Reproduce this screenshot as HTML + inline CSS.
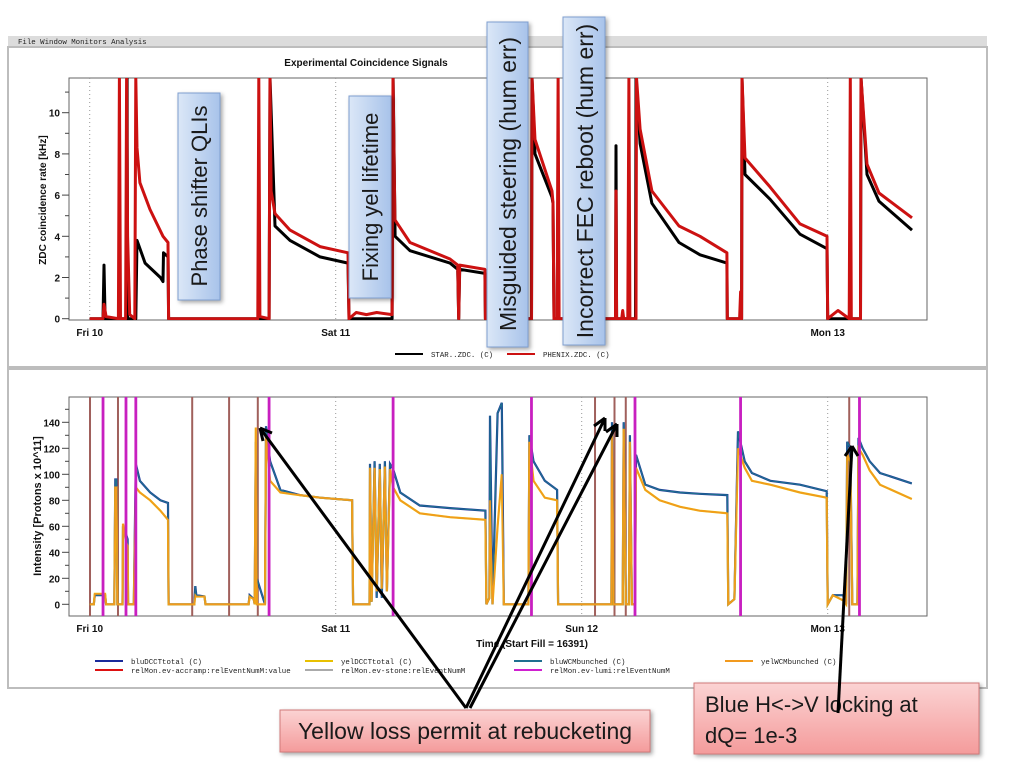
<!DOCTYPE html>
<html><head><meta charset="utf-8"><style>
html,body{margin:0;padding:0;background:#fff;width:1024px;height:768px;overflow:hidden}
svg{display:block}
.mono{font-family:"Liberation Mono",monospace;font-size:7.4px;fill:#222}
.lab{font-family:"Liberation Sans",sans-serif;font-size:10px;font-weight:bold;fill:#111}
.ann{font-family:"Liberation Sans","DejaVu Sans",sans-serif;font-size:22px;fill:#1a1a1a}
</style></head><body>
<svg id="chart" width="1024" height="768" viewBox="0 0 1024 768" xmlns="http://www.w3.org/2000/svg">
<defs>
<linearGradient id="gBlue" x1="0" y1="0" x2="1" y2="0"><stop offset="0" stop-color="#dbe7f7"/><stop offset="1" stop-color="#a8c3ea"/></linearGradient>
<linearGradient id="gRed" x1="0" y1="0" x2="0" y2="1"><stop offset="0" stop-color="#fbd3d3"/><stop offset="1" stop-color="#f49b9b"/></linearGradient>
<clipPath id="cTop"><rect x="69" y="78" width="858" height="242"/></clipPath>
<clipPath id="cBot"><rect x="69" y="397" width="858" height="219"/></clipPath>
</defs>
<g>
<rect x="8" y="36" width="979" height="11" fill="#dcdcdc"/>
<text x="18" y="44" class="mono" fill="#555">File    Window    Monitors    Analysis</text>
<rect x="8" y="47" width="979" height="320" fill="#fff" stroke="#bdbdbd" stroke-width="2"/>
<rect x="8" y="369" width="979" height="319" fill="#fff" stroke="#bdbdbd" stroke-width="2"/>
</g>
<text x="366" y="66" text-anchor="middle" class="lab">Experimental Coincidence Signals</text>
<rect x="69" y="78" width="858" height="242" fill="none" stroke="#666"/>
<rect x="69" y="397" width="858" height="219" fill="none" stroke="#666"/>
<text transform="translate(46,200) rotate(-90)" text-anchor="middle" class="lab">ZDC coincidence rate [kHz]</text>
<text transform="translate(41,506) rotate(-90)" text-anchor="middle" class="lab" style="font-size:11px">Intensity [Protons x 10^11]</text>
<text x="532" y="647" text-anchor="middle" class="lab">Time (Start Fill = 16391)</text>
<g id="gTopAxes"></g><g id="gBotAxes"></g>
<g id="gTop" clip-path="url(#cTop)"></g>
<g id="gBot" clip-path="url(#cBot)"></g>
<g id="gLegend"></g>
<g>
<g stroke="#000" stroke-width="3" fill="none">
<line x1="466" y1="708" x2="260" y2="428"/><path d="M260,428 l3,13 M260,428 l12,5"/>
<line x1="466" y1="708" x2="605" y2="418"/><path d="M605,418 l-11,8 M605,418 l0,13"/>
<line x1="470" y1="708" x2="617" y2="424"/><path d="M617,424 l-11,8 M617,424 l0,13"/>
</g>
<g><rect x="178" y="93" width="42" height="207" fill="url(#gBlue)" stroke="#7f9fd0" style="filter:drop-shadow(2px 2px 2px rgba(0,0,0,.35))"/><text class="ann" transform="translate(207,196) rotate(-90)" text-anchor="middle">Phase shifter QLIs</text></g>
<g><rect x="349" y="96" width="42" height="202" fill="url(#gBlue)" stroke="#7f9fd0" style="filter:drop-shadow(2px 2px 2px rgba(0,0,0,.35))"/><text class="ann" transform="translate(378,197) rotate(-90)" text-anchor="middle">Fixing yel lifetime</text></g>
<g><rect x="487" y="22" width="41" height="325" fill="url(#gBlue)" stroke="#7f9fd0" style="filter:drop-shadow(2px 2px 2px rgba(0,0,0,.35))"/><text class="ann" style="font-size:23px" transform="translate(516,184) rotate(-90)" text-anchor="middle">Misguided steering (hum err)</text></g>
<g><rect x="563" y="17" width="42" height="328" fill="url(#gBlue)" stroke="#7f9fd0" style="filter:drop-shadow(2px 2px 2px rgba(0,0,0,.35))"/><text class="ann" style="font-size:23px" transform="translate(593,181) rotate(-90)" text-anchor="middle">Incorrect FEC reboot (hum err)</text></g>
<g><rect x="280" y="710" width="370" height="42" fill="url(#gRed)" stroke="#d27a7a" style="filter:drop-shadow(2px 2px 2px rgba(0,0,0,.35))"/><text class="ann" style="font-size:23px" x="465" y="739" text-anchor="middle">Yellow loss permit at rebucketing</text></g>
<g><rect x="694" y="683" width="285" height="71" fill="url(#gRed)" stroke="#d27a7a" style="filter:drop-shadow(2px 2px 2px rgba(0,0,0,.35))"/><text class="ann" x="705" y="712">Blue H&lt;-&gt;V locking at</text><text class="ann" x="705" y="743">dQ= 1e-3</text></g>
<g stroke="#000" stroke-width="3" fill="none">
<line x1="838" y1="713" x2="852" y2="446"/><path d="M852,446 l-7,10 M852,446 l6,10"/>
</g>
</g>
</svg>
<script>
// ---- data (hours since Fri 10 00:00) ----
const dayLabels = ["Fri 10","Sat 11","Sun 12","Mon 13"];
const topDays = [0,1,3];
const botDays = [0,1,2,3];
const topYTicks = [0,2,4,6,8,10];
const botYTicks = [0,20,40,60,80,100,120,140];
const phenixPts = [[0,0],[1.3,0],[1.4,0.7],[1.6,0.1],[2.8,0],[2.9,11.7],[3.0,0],[3.5,0],[3.6,11.7],[3.7,4],[3.9,0.2],[4.4,0],[4.5,11.7],[4.61,8.3],[4.9,6.6],[5.88,5.3],[7.15,4.0],[7.64,3.7],[7.7,0],[16.4,0],[16.5,11.7],[16.6,0.1],[17.5,0],[17.59,11.7],[17.7,6.2],[18.08,5.1],[19.54,4.3],[22.47,3.5],[25.2,3.2],[25.3,0],[26,0.3],[27,0.2],[28,0.3],[29.5,0.2],[29.59,11.7],[29.78,4.8],[31.25,3.7],[35.15,2.9],[35.9,2.6],[36.0,0],[36.1,2.6],[38.56,2.4],[38.6,0],[43.1,0],[43.15,11.7],[43.44,8.7],[45.1,6.2],[45.2,5.6],[45.3,0],[45.6,0],[45.7,11.7],[45.8,0],[51.3,0],[51.35,6.2],[51.4,0],[51.9,0],[52.0,0.4],[52.1,0],[52.5,0],[52.6,11.7],[52.7,0],[53.3,0],[53.35,11.7],[53.7,9.2],[54.85,6.2],[57.49,4.5],[59.54,4.0],[62.17,3.2],[62.2,0],[63.4,0],[63.5,1.3],[63.6,0],[63.64,11.7],[63.93,7.8],[66.37,6.4],[69.3,4.6],[71.93,4.0],[72.0,0],[73,0.4],[74.1,0],[74.2,11.7],[74.3,0],[75.2,0],[75.25,11.7],[75.83,7.5],[77.0,6.1],[80.22,4.9]];
const starPts = [[0,0],[1.3,0],[1.4,2.6],[1.5,0],[3.6,0],[3.65,11.7],[3.7,0],[4.5,0],[4.61,3.8],[5.4,2.7],[6.9,2.0],[7.15,1.8],[7.2,3.2],[7.64,3.0],[7.7,0],[17.5,0],[17.59,11.7],[18.08,4.5],[19.54,3.8],[22.47,3.0],[25.2,2.7],[25.3,0],[29.5,0],[29.6,11.7],[29.8,4.0],[31.25,3.3],[35.15,2.7],[35.9,2.4],[36.0,0],[36.1,2.4],[38.56,2.2],[38.6,0],[43.1,0],[43.15,11.7],[43.44,8.0],[45.1,5.9],[45.2,5.6],[45.3,0],[51.3,0],[51.35,8.4],[51.4,0],[53.25,0],[53.3,11.7],[53.7,8.5],[54.85,5.6],[57.49,3.7],[59.54,3.1],[62.17,2.7],[62.2,0],[63.6,0],[63.64,11.7],[63.93,7.0],[66.37,5.8],[69.3,4.1],[71.93,3.4],[72.0,0],[75.2,0],[75.25,11.7],[75.83,7.0],[77.0,5.7],[80.22,4.3]];
const bluPts = [[0,0],[0.4,0],[0.5,7],[1.5,7],[1.6,0],[2.4,0],[2.5,96],[2.6,96],[2.7,0],[3.2,0],[3.25,60],[3.5,55],[3.7,50],[3.75,0],[4.3,0],[4.5,108],[4.9,95],[5.9,86],[6.9,80],[7.64,78],[7.7,0],[10.2,0],[10.3,14],[10.4,7],[11.2,6],[11.3,0],[15.5,0],[15.6,7],[16.0,4],[16.1,0],[16.2,125],[16.3,20],[17.1,0],[17.2,137],[17.6,110],[18.6,88],[20.5,84],[22.5,82],[25.6,80],[25.7,0],[27.3,0],[27.35,108],[27.5,2],[27.8,110],[28.0,5],[28.3,108],[28.5,5],[28.8,110],[29.0,10],[29.3,108],[29.6,104],[30.3,86],[32.2,76],[35.15,74],[38.6,72],[38.7,0],[39.0,5],[39.05,145],[39.3,0],[39.8,147],[40.2,155],[40.4,0],[42.8,0],[42.9,130],[43.3,110],[44.4,95],[45.6,88],[45.7,0],[50.9,0],[50.96,140],[51.1,0],[52.0,0],[52.1,140],[52.3,0],[52.6,0],[52.7,130],[52.9,0],[53.2,0],[53.3,115],[54.2,92],[55.6,88],[57.6,86],[59.5,85],[62.2,84],[62.3,0],[62.9,4],[63.25,133],[63.9,110],[64.6,101],[66.4,95],[69.3,92],[71.9,87],[72.0,0],[72.5,7],[73.5,7],[73.8,0],[73.9,125],[74.2,120],[74.4,0],[74.9,0],[75.0,128],[75.4,120],[76.1,110],[77.1,101],[80.2,93]];
const yelPts = [[0,0],[0.4,0],[0.5,8],[1.5,8],[1.6,0],[2.4,0],[2.5,90],[2.6,90],[2.7,0],[3.2,0],[3.25,62],[3.5,50],[3.7,45],[3.75,0],[4.3,0],[4.5,90],[4.9,86],[5.9,80],[6.9,72],[7.64,65],[7.7,0],[10.2,0],[10.3,7],[10.4,6],[11.2,6],[11.3,0],[15.5,0],[15.6,6],[16.0,4],[16.1,0],[16.2,136],[16.3,0],[17.1,0],[17.2,130],[17.6,95],[18.6,86],[20.5,84],[22.5,82],[25.6,80],[25.7,0],[27.3,0],[27.35,105],[27.5,2],[27.8,105],[28.0,10],[28.3,104],[28.5,12],[28.8,106],[29.0,10],[29.3,104],[29.6,90],[30.3,80],[32.2,70],[35.15,67],[38.6,65],[38.7,0],[39.0,5],[39.05,80],[39.3,0],[39.8,60],[40.2,100],[40.4,0],[42.8,0],[42.9,125],[43.3,95],[44.4,82],[45.6,80],[45.7,0],[50.9,0],[50.96,130],[51.1,0],[52.0,0],[52.1,135],[52.3,0],[52.6,0],[52.7,125],[52.9,0],[53.2,0],[53.3,105],[54.2,88],[55.6,80],[57.6,75],[59.5,72],[62.2,70],[62.3,0],[62.9,4],[63.25,120],[63.9,105],[64.6,95],[66.4,92],[69.3,86],[71.9,82],[72.0,0],[72.5,7],[73.5,3],[73.8,0],[73.9,115],[74.2,110],[74.4,0],[74.9,0],[75.0,120],[75.4,115],[76.1,103],[77.1,92],[80.2,81]];
const stoneT = [0.03,2.76,10.0,13.6,16.4,49.3,51.2,52.3,74.1];
const lumiT = [1.3,3.54,4.5,17.5,29.6,43.1,53.2,63.5,75.1];
</script>
<script>
const NS="http://www.w3.org/2000/svg";
function xT(h){return 89.7+h*10.25;}
function yTop(v){return 318.7-v*20.6;}
function yBot(v){return 604.3-v*1.3;}
function mk(tag,attrs,parent){const e=document.createElementNS(NS,tag);for(const k in attrs)e.setAttribute(k,attrs[k]);parent.appendChild(e);return e;}
function pathD(pts,yf){return pts.map((p,i)=>(i?"L":"M")+xT(p[0]).toFixed(1)+","+yf(p[1]).toFixed(1)).join("");}
const gTA=document.getElementById("gTopAxes"),gBA=document.getElementById("gBotAxes");
const gT=document.getElementById("gTop"),gB=document.getElementById("gBot");
const gL=document.getElementById("gLegend");
for(let v=0;v<=11;v++){const l=mk("line",{x1:v%2?65:62,x2:69,y1:yTop(v),y2:yTop(v),stroke:"#444"},gTA);

}
topYTicks.forEach(v=>{const t=mk("text",{x:60,y:yTop(v)+4,"text-anchor":"end",class:"lab"},gTA);t.textContent=v;

});
topDays.forEach(d=>{const x=xT(d*24);const g=mk("line",{x1:x,x2:x,y1:78,y2:320,stroke:"#999","stroke-dasharray":"1,3"},gTA);


const t=mk("text",{x:x,y:336,"text-anchor":"middle",class:"lab"},gTA);t.textContent=dayLabels[d];

});
for(let v=0;v<=150;v+=10){const l=mk("line",{x1:v%20?65:62,x2:69,y1:yBot(v),y2:yBot(v),stroke:"#444"},gBA);

}
botYTicks.forEach(v=>{const t=mk("text",{x:60,y:yBot(v)+4,"text-anchor":"end",class:"lab"},gBA);t.textContent=v;

});
botDays.forEach(d=>{const x=xT(d*24);const g=mk("line",{x1:x,x2:x,y1:397,y2:616,stroke:"#999","stroke-dasharray":"1,3"},gBA);


const t=mk("text",{x:x,y:632,"text-anchor":"middle",class:"lab"},gBA);t.textContent=dayLabels[d];

});
const pStar=mk("path",{d:pathD(starPts,yTop),fill:"none",stroke:"#000","stroke-width":3,"stroke-linejoin":"round"},gT);


const pPhx=mk("path",{d:pathD(phenixPts,yTop),fill:"none",stroke:"#cc1111","stroke-width":3,"stroke-linejoin":"round"},gT);


stoneT.forEach(t=>{const l=mk("line",{x1:xT(t),x2:xT(t),y1:397,y2:616,stroke:"#a0605c","stroke-width":2},gB);

});
const pBD=mk("path",{d:pathD(bluPts,yBot),fill:"none",stroke:"#1a2a9a","stroke-width":2.2},gB);


const pYD=mk("path",{d:pathD(yelPts,yBot),fill:"none",stroke:"#e8c000","stroke-width":2.2},gB);


const pBW=mk("path",{d:pathD(bluPts,yBot),fill:"none",stroke:"#1f6f8f","stroke-width":1.4},gB);


const pYW=mk("path",{d:pathD(yelPts,yBot),fill:"none",stroke:"#f29a1e","stroke-width":1.6},gB);


lumiT.forEach(t=>{const l=mk("line",{x1:xT(t),x2:xT(t),y1:397,y2:616,stroke:"#c81fc0","stroke-width":2.8},gB);

});
const legs=[[395,357,"#000","STAR..ZDC. (C)"],[507,357,"#cc1111","PHENIX.ZDC. (C)"],
[95,664,"#1a2a9a","bluDCCTtotal (C)"],[95,673,"#dd1111","relMon.ev-accramp:relEventNumM:value"],
[305,664,"#e8c000","yelDCCTtotal (C)"],[305,673,"#aaaaaa","relMon.ev-stone:relEventNumM"],
[514,664,"#1f6f8f","bluWCMbunched (C)"],[514,673,"#d020d0","relMon.ev-lumi:relEventNumM"],
[725,664,"#f29a1e","yelWCMbunched (C)"]];
legs.forEach(a=>{const g=document.createElementNS(NS,"g");gL.appendChild(g);


mk("line",{x1:a[0],x2:a[0]+28,y1:a[1]-3,y2:a[1]-3,stroke:a[2],"stroke-width":2},g);
const t=mk("text",{x:a[0]+36,y:a[1],class:"mono"},g);t.textContent=a[3];});
</script>
</body></html>
